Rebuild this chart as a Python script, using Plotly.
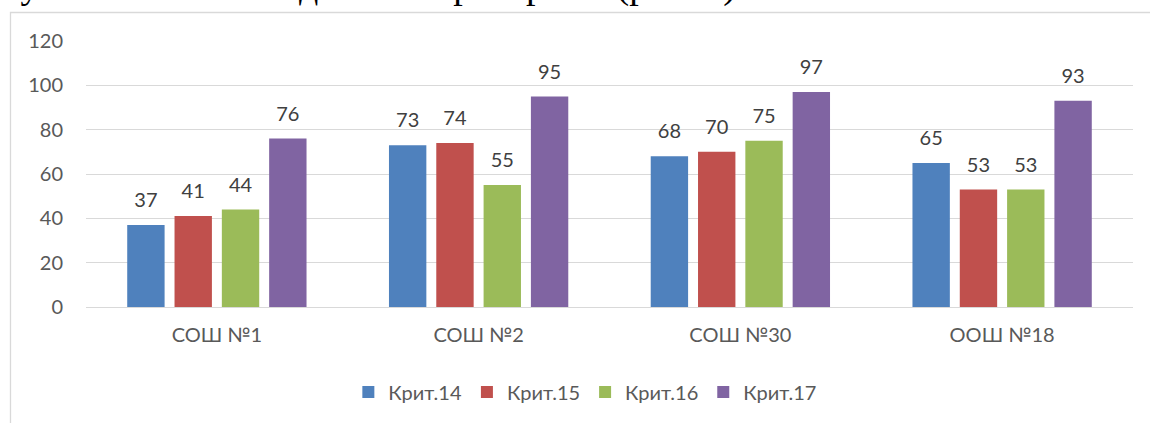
import plotly.graph_objects as go

categories = ["СОШ №1", "СОШ №2", "СОШ №30", "ООШ №18"]
series_names = ["Крит.14", "Крит.15", "Крит.16", "Крит.17"]
krit14 = [37, 73, 68, 65]
krit15 = [41, 74, 70, 53]
krit16 = [44, 55, 75, 53]
krit17 = [76, 95, 97, 93]
y_ticks = [0, 20, 40, 60, 80, 100, 120]
colors = ["#4F81BD", "#C0504D", "#9BBB59", "#8064A2"]
caption = "результаты школ по данным критериям (рис. 9)."

W, H = 1150, 423
L, R, T, B = 86, 17, 41, 116
pw, ph = W - L - R, H - T - B
FONT = "Lato, Open Sans, sans-serif"

fig = go.Figure()
values = [krit14, krit15, krit16, krit17]
for name, vals, col in zip(series_names, values, colors):
    fig.add_trace(go.Bar(x=categories, y=vals, name=name, marker=dict(color=col, line=dict(width=0))))
for name, vals in zip(series_names, values):
    fig.add_trace(go.Scatter(x=categories, y=vals, mode="markers+text", text=[str(v) for v in vals],
                             textposition="top center", showlegend=False, hoverinfo="skip",
                             marker=dict(size=19, opacity=0),
                             textfont=dict(family=FONT, size=20, color="#404040")))

def px_x(p):
    return (p - L) / pw

def px_y(p):
    return (H - B - p) / ph

fig.add_shape(type="rect", xref="paper", yref="paper",
              x0=px_x(10.5), x1=px_x(1200), y0=px_y(480), y1=px_y(12.5),
              line=dict(color="#D9D9D9", width=1.3), fillcolor="rgba(0,0,0,0)", layer="below")

fig.add_annotation(text=caption, xref="paper", yref="paper", x=px_x(748), y=px_y(9),
                   xanchor="right", yanchor="bottom", showarrow=False,
                   font=dict(family="Liberation Serif, Times New Roman, serif", size=38, color="#000000"))

fig.update_layout(
    width=W, height=H,
    margin=dict(l=L, r=R, t=T, b=B, pad=0),
    paper_bgcolor="white", plot_bgcolor="white",
    barmode="group", bargap=0.277, bargroupgap=0.21,
    scattermode="group", scattergap=0.277,
    font=dict(family=FONT, size=20, color="#595959"),
    legend=dict(orientation="h", xref="container", yref="container", x=0.509, y=1 - 392 / H,
                xanchor="center", yanchor="middle", font=dict(size=20, color="#595959"),
                itemwidth=30, tracegroupgap=0),
    xaxis=dict(showgrid=False, showline=False, ticks="", ticklabelstandoff=14,
               tickfont=dict(size=20, color="#595959")),
    yaxis=dict(range=[0, 120], tickvals=y_ticks, showgrid=True, gridcolor="#D9D9D9", gridwidth=1.3,
               zeroline=True, zerolinecolor="#D9D9D9", zerolinewidth=1.3, showline=False, ticks="",
               ticklabelstandoff=22, tickfont=dict(size=20, color="#595959")),
)

fig.write_html("out.html", config={"displayModeBar": False},
               post_script="document.body.style.margin='0';")
